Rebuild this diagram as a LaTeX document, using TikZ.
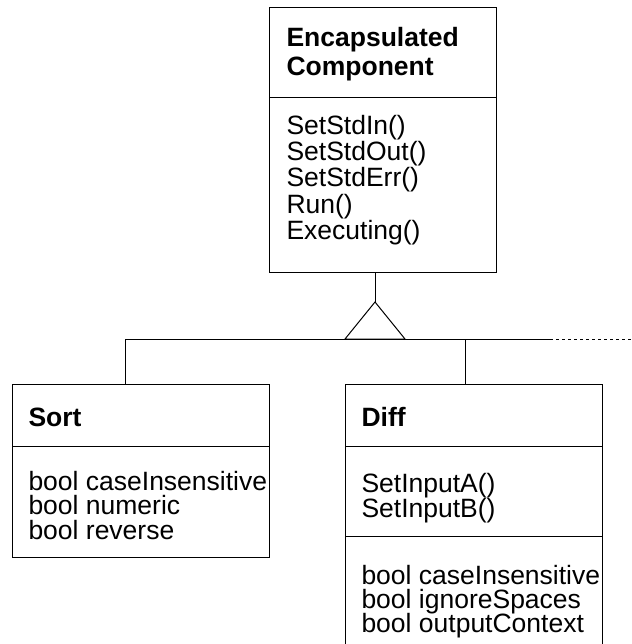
\documentclass[tikz,border=0pt]{standalone}
\usepackage{fontspec}
\setmainfont{Liberation Sans}
\begin{document}
\begin{tikzpicture}[x=1pt,y=-1pt, line width=1pt,
  box/.style={draw, rectangle, inner sep=0pt, outer sep=0pt, anchor=north west},
  txt/.style={anchor=base west, inner sep=0pt, font=\fontsize{26.5}{26}\selectfont},
  ttl/.style={anchor=base west, inner sep=0pt, font=\fontsize{26.5}{26}\selectfont\bfseries},
  dotline/.style={dash pattern=on 3pt off 3pt}]
\useasboundingbox (0,0) rectangle (631,644);

% boxes
\node[box, minimum width=227pt, minimum height=264pt] (ec) at (269,8) {};
\node[box, minimum width=257pt, minimum height=173pt] (sort) at (12,384) {};
\node[box, minimum width=257pt, minimum height=270pt] (diff) at (345,384) {};

% compartment dividers
\draw (269,98) -- (496,98);
\draw (12,446) -- (269,446);
\draw (345,446) -- (602,446);
\draw (345,536) -- (602,536);

% texts: Encapsulated Component
\node[ttl] (ec1) at (286,47) {Encapsulated};
\node[ttl] (ec2) at (286,76) {Component};
\node[txt] (m1) at (286,135) {SetStdIn()};
\node[txt] (m2) at (286,161) {SetStdOut()};
\node[txt] (m3) at (286,187) {SetStdErr()};
\node[txt] (m4) at (286,213) {Run()};
\node[txt] (m5) at (286,239) {Executing()};

% Sort
\node[ttl] (s0) at (28,426) {Sort};
\node[txt] (s1) at (28,490) {bool caseInsensitive};
\node[txt] (s2) at (28,514) {bool numeric};
\node[txt] (s3) at (28,539) {bool reverse};

% Diff
\node[ttl] (d0) at (361,426) {Diff};
\node[txt] (d1) at (361,492) {SetInputA()};
\node[txt] (d2) at (361,517) {SetInputB()};
\node[txt] (d3) at (361,584) {bool caseInsensitive};
\node[txt] (d4) at (361,608) {bool ignoreSpaces};
\node[txt] (d5) at (361,632) {bool outputContext};

% generalization connectors
\coordinate (apex) at (375,302);
\coordinate (bl) at (345,339);
\coordinate (br) at (405,339);
\coordinate (sj) at (125,339);
\coordinate (dj) at (465,339);
\coordinate (hs) at (550,339);
\coordinate (he) at (631,339);
\draw (ec.south -| apex) -- (apex);
\draw (apex) -- (bl) -- (br) -- cycle;
\draw (sj) -- (hs);
\draw[dotline] (hs) -- (he);
\draw (sj) -- (sj |- sort.north);
\draw (dj) -- (dj |- diff.north);
\end{tikzpicture}
\end{document}
